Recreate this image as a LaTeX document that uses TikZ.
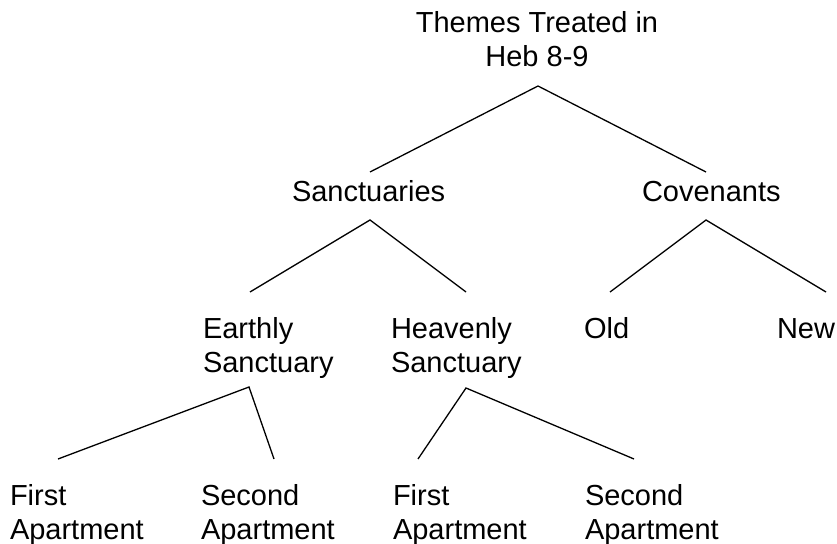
\documentclass[tikz,border=0pt]{standalone}
\usepackage{fontspec}
\setmainfont{Liberation Sans}
\begin{document}
\begin{tikzpicture}[x=1bp,y=-1bp,
  lbl/.style={inner sep=0pt, outer sep=0pt, font=\fontsize{29bp}{34bp}\selectfont, align=left, anchor=base west},
  link/.style={line width=1.3bp, black}]
\useasboundingbox (0,0) rectangle (837,544);
% texts
\node[lbl, align=center, anchor=base] (root) at (537,67) {Themes Treated in\\Heb 8-9};
\node[lbl] (sanc) at (292,202) {Sanctuaries};
\node[lbl] (cov) at (642,202) {Covenants};
\node[lbl] (earth) at (203,372) {Earthly\\Sanctuary};
\node[lbl] (heav) at (391,372) {Heavenly\\Sanctuary};
\node[lbl] (old) at (584,338) {Old};
\node[lbl] (new) at (777,338) {New};
\node[lbl] (ef) at (10,539) {First\\Apartment};
\node[lbl] (es) at (201,539) {Second\\Apartment};
\node[lbl] (hf) at (393,539) {First\\Apartment};
\node[lbl] (hs) at (585,539) {Second\\Apartment};
% connector points
\coordinate (rootA) at (538,86);
\coordinate (sancT) at (370,172);
\coordinate (covT) at (706,172);
\coordinate (sancA) at (370,220);
\coordinate (earthT) at (250,292);
\coordinate (heavT) at (466,292);
\coordinate (covA) at (706,220);
\coordinate (oldT) at (610,292);
\coordinate (newT) at (826,292);
\coordinate (earthA) at (249,387);
\coordinate (efT) at (58,459);
\coordinate (esT) at (274,459);
\coordinate (heavA) at (466,388);
\coordinate (hfT) at (418,459);
\coordinate (hsT) at (634,459);
% connectors
\draw[link] (sancT) -- (rootA) -- (covT);
\draw[link] (earthT) -- (sancA) -- (heavT);
\draw[link] (oldT) -- (covA) -- (newT);
\draw[link] (efT) -- (earthA) -- (esT);
\draw[link] (hfT) -- (heavA) -- (hsT);
\end{tikzpicture}
\end{document}
